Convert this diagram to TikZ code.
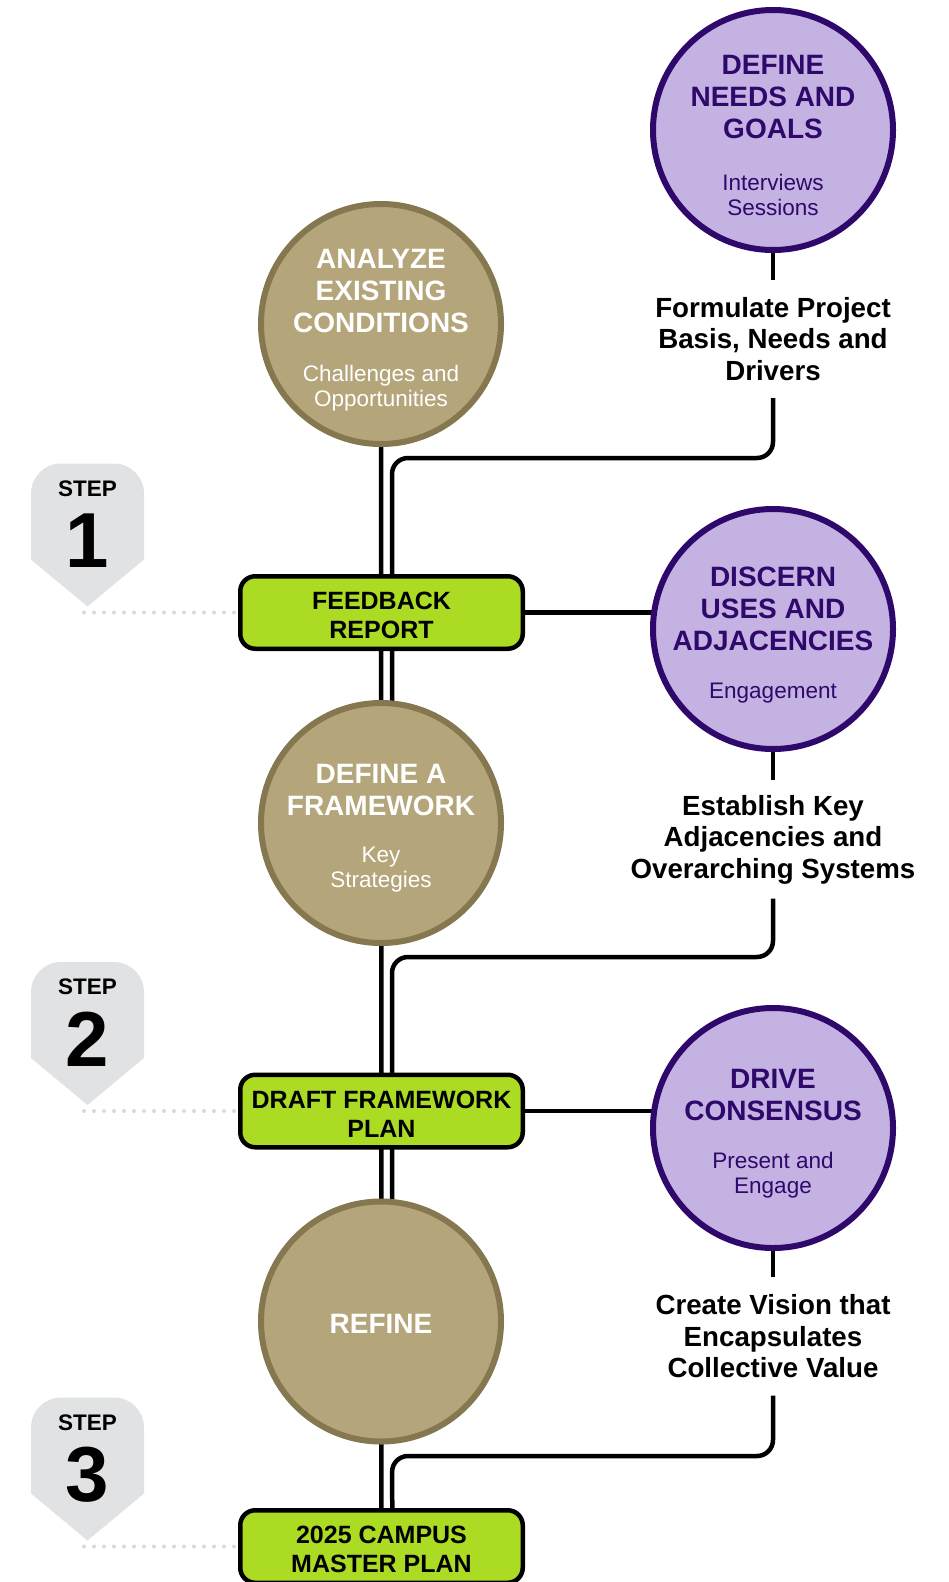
\documentclass[tikz,border=0pt]{standalone}
\usepackage{fontspec}
\setmainfont{Liberation Sans}
\usetikzlibrary{calc}
\definecolor{tanfill}{RGB}{181,165,122}
\definecolor{tanline}{RGB}{133,119,79}
\definecolor{purfill}{RGB}{196,179,226}
\definecolor{purdark}{RGB}{46,8,106}
\definecolor{lime}{RGB}{171,219,34}
\definecolor{badgegray}{RGB}{225,226,228}
\definecolor{dotgray}{RGB}{216,217,220}
\pgfdeclarelayer{background}
\pgfsetlayers{background,main}
\newcommand{\mybadge}[1]{%
  \fill[badge] (87.5,#1) -- (31,#1-47) -- (31,#1-113)
    arc[start angle=180,end angle=270,radius=30] -- (114,#1-143)
    arc[start angle=270,end angle=360,radius=30] -- (144,#1-47) -- cycle;}
\newcommand{\boxstrut}{\rule{0pt}{24pt}}
\begin{document}
\begin{tikzpicture}[x=1pt,y=-1pt,
  tancirc/.style={circle, draw=tanline, fill=tanfill, line width=6pt, minimum size=240pt, inner sep=0pt},
  purcirc/.style={circle, draw=purdark, fill=purfill, line width=6pt, minimum size=240pt, inner sep=0pt},
  tantitle/.style={align=center, text=white, inner sep=0pt, font=\fontsize{28}{32}\selectfont\bfseries},
  tansub/.style={align=center, text=white, inner sep=0pt, font=\fontsize{22.5}{25}\selectfont},
  purtitle/.style={tantitle, text=purdark},
  pursub/.style={tansub, text=purdark},
  greenbox/.style={rectangle, rounded corners=15pt, draw=black, fill=lime, line width=4.5pt,
    minimum width=282.5pt, minimum height=72.5pt, inner sep=0pt, align=center,
    font=\fontsize{25}{29}\selectfont\bfseries},
  branchlabel/.style={align=center, inner sep=0pt, minimum height=118pt,
    font=\fontsize{27.7}{31.5}\selectfont\bfseries},
  conn/.style={line width=4.5pt, draw=black},
  steplbl/.style={inner sep=0pt, font=\fontsize{22.5}{26}\selectfont\bfseries},
  stepnum/.style={inner sep=0pt, font=\fontsize{78}{80}\selectfont\bfseries},
  badge/.style={fill=badgegray},
  dotline/.style={draw=dotgray, line width=4pt, line cap=round, dash pattern=on 0pt off 10pt}
]
\useasboundingbox (0,0) rectangle (948,1582);

% ---- step badges
\mybadge{606.5}
\mybadge{1105}
\mybadge{1540.5}
\coordinate (tip1) at (84,606.5);
\coordinate (tip2) at (84,1105);
\coordinate (tip3) at (84,1540.5);
\node[steplbl] (step1) at (87.5,488.5) {STEP};
\node[stepnum] (num1) at (87.5,540.5) {1};
\node[steplbl] (step2) at (87.5,987) {STEP};
\node[stepnum] (num2) at (87.5,1039) {2};
\node[steplbl] (step3) at (87.5,1422.5) {STEP};
\node[stepnum] (num3) at (87.5,1474.5) {3};

% ---- block 1
\node[purcirc] (needs) at (773,130) {};
\node[purtitle] (needsT) at (773,97) {DEFINE\\NEEDS AND\\GOALS};
\node[pursub] (needsS) at (773,195) {Interviews\\Sessions};
\node[branchlabel] (formulate) at (773,339) {Formulate Project\\Basis, Needs and\\Drivers};
\node[tancirc] (analyze) at (381,324) {};
\node[tantitle] (analyzeT) at (381,291) {ANALYZE\\EXISTING\\CONDITIONS};
\node[tansub] (analyzeS) at (381,388.5) {Challenges and\\Opportunities};
\node[greenbox] (feedback) at (381.5,612.5) {\boxstrut FEEDBACK\\REPORT};

% ---- block 2
\node[purcirc] (discern) at (773,629) {};
\node[purtitle] (discernT) at (773,608.5) {DISCERN\\USES AND\\ADJACENCIES};
\node[pursub] (discernS) at (773,693.5) {Engagement};
\node[branchlabel] (establish) at (773,839.5) {Establish Key\\Adjacencies and\\Overarching Systems};
\node[tancirc] (framework) at (381,823) {};
\node[tantitle] (frameworkT) at (381,790) {DEFINE A\\FRAMEWORK};
\node[tansub] (frameworkS) at (381,870) {Key\\Strategies};
\node[greenbox] (draft) at (381.5,1111) {\boxstrut DRAFT FRAMEWORK\\PLAN};

% ---- block 3
\node[purcirc] (drive) at (773,1128) {};
\node[purtitle] (driveT) at (773,1094.5) {DRIVE\\CONSENSUS};
\node[pursub] (driveS) at (773,1175) {Present and\\Engage};
\node[branchlabel] (create) at (773,1336.5) {Create Vision that\\Encapsulates\\Collective Value};
\node[tancirc] (refine) at (381,1321.5) {};
\node[tantitle] (refineT) at (381,1324) {REFINE};
\node[greenbox] (master) at (381.5,1546.5) {\boxstrut 2025 CAMPUS\\MASTER PLAN};

\coordinate (j1) at (392,458);
\coordinate (j2) at (392,957);
\coordinate (j3) at (392,1456);

\begin{pgfonlayer}{background}
  % dotted guides
  \draw[dotline] (tip1 |- feedback.west) -- (feedback.center);
  \draw[dotline] (tip2 |- draft.west) -- (draft.center);
  \draw[dotline] (tip3 |- master.west) -- (master.center);
  % trunk
  \draw[conn] (analyze.center) -- (master.center);
  % stubs from purple circles
  \draw[conn] (needs.south) -- (formulate.north);
  \draw[conn] (discern.south) -- (establish.north);
  \draw[conn] (drive.south) -- (create.north);
  % branches
  \draw[conn, rounded corners=16pt] (formulate.south) |- (j1) -- ($(framework.center)+(11,0)$);
  \draw[conn, rounded corners=16pt] (establish.south) |- (j2) -- ($(refine.center)+(11,0)$);
  \draw[conn, rounded corners=16pt] (create.south) |- (j3) -- ($(master.center)+(11,0)$);
  % horizontal links
  \draw[conn] (feedback.east) -- (feedback.east -| discern.center);
  \draw[conn] (draft.east) -- (draft.east -| drive.center);
\end{pgfonlayer}
\end{tikzpicture}
\end{document}
